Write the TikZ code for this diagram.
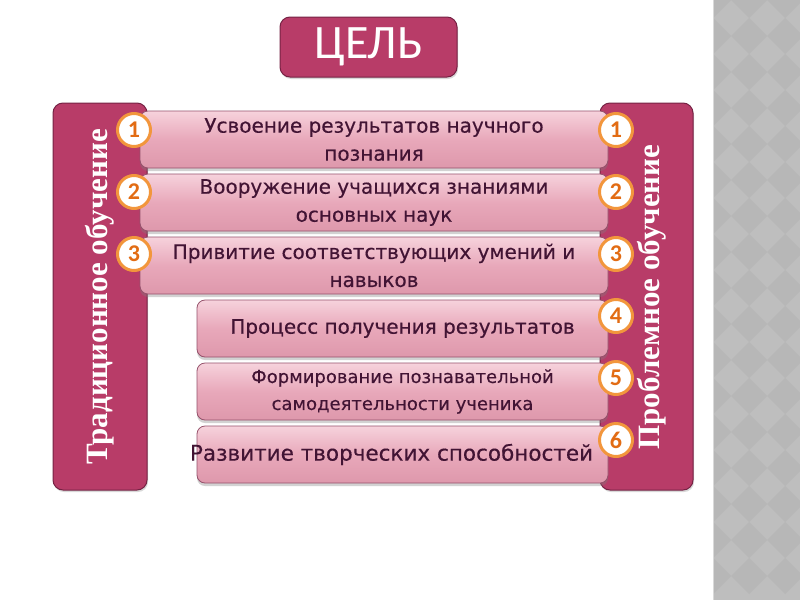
\documentclass[tikz,border=0pt]{standalone}
\usepackage{fontspec}
\setmainfont{DejaVu Sans}[FakeBold=0.4]
\newfontfamily\titlefont{Carlito}
\newfontfamily\barfont{Liberation Serif}
\usetikzlibrary{shadows}
\definecolor{berry}{RGB}{184,60,104}
\definecolor{berryedge}{RGB}{118,34,68}
\definecolor{pinktop}{RGB}{246,210,220}
\definecolor{pinkmid}{RGB}{232,168,186}
\definecolor{pinkbot}{RGB}{222,152,172}
\definecolor{pinkedge}{RGB}{150,82,108}
\definecolor{plum}{RGB}{66,20,52}
\definecolor{ring}{RGB}{242,150,60}
\definecolor{digit}{RGB}{226,108,20}
\definecolor{stripe}{RGB}{190,190,190}
\definecolor{stripedark}{RGB}{183,183,183}

\begin{document}
\begin{tikzpicture}[x=1pt,y=-1pt,
  sidebar/.style={draw=berryedge,line width=1pt,fill=berry,rounded corners=10pt,
    drop shadow={shadow xshift=1pt,shadow yshift=-2pt,opacity=.3}},
  stepbox/.style={draw=pinkedge,line width=.8pt,rounded corners=8pt,
    top color=pinktop,bottom color=pinkbot,middle color=pinkmid,
    minimum height=57,align=center,text=plum,inner sep=2pt,
    font=\fontsize{20}{28}\selectfont,
    drop shadow={shadow xshift=0pt,shadow yshift=-3pt,opacity=.35}},
  numring/.style={circle,draw=ring,line width=3pt,fill=white,minimum size=33,
    inner sep=0pt,text=digit,font=\titlefont\bfseries\fontsize{24}{24}\selectfont},
  sidetext/.style={rotate=90,text=white,font=\barfont\bfseries\fontsize{31}{31}\selectfont}
]
\useasboundingbox (0,0) rectangle (800,600);
\fill[white] (0,0) rectangle (800,600);
% patterned stripe on the right
\begin{scope}
  \clip (713,0) rectangle (800,600);
  \fill[stripe] (713,0) rectangle (800,600);
  \foreach \i in {0,...,3}
    \foreach \j in {0,...,16}
      \fill[stripedark] (713+36*\i,36*\j) ++(-18,0) -- ++(18,-18) -- ++(18,18) -- ++(-18,18) -- cycle;
\end{scope}
\draw[gray!30,line width=1pt] (713,0) -- (713,600);

% goal
\node[sidebar,minimum width=177,minimum height=60,text=white,
  font=\titlefont\fontsize{48}{48}\selectfont] (goal) at (368.5,47) {ЦЕЛЬ};

% side bars
\node[sidebar,minimum width=94,minimum height=387] (leftbar) at (100,296.5) {};
\node[sidebar,minimum width=93,minimum height=387] (rightbar) at (646.5,296.5) {};
\node[sidetext] (lefttext) at (100,297) {Традиционное обучение};
\node[sidetext] (righttext) at (652,297) {Проблемное обучение};

% shared aims
\foreach \i/\txt in {1/{Усвоение результатов научного\\познания},
                     2/{Вооружение учащихся знаниями\\основных наук},
                     3/{Привитие соответствующих умений и\\навыков}}{
  \node[stepbox,minimum width=468] (box\i) at (374,76.5+63*\i) {\txt};
  \node[numring] (lnum\i) at (134,68+62*\i) {\i};
}
% problem-based only
\node[stepbox,minimum width=411] (box4) at (402.5,328.5) {Процесс получения результатов};
\node[stepbox,minimum width=411,font=\fontsize{18}{27}\selectfont] (box5) at (402.5,391.5)
  {Формирование познавательной\\самодеятельности ученика};
\node[stepbox,minimum width=411,font=\fontsize{21.5}{28}\selectfont] (box6) at (402.5,454.5)
  {\hspace*{-22pt}Развитие творческих способностей};
\foreach \i in {1,...,6}
  \node[numring] (rnum\i) at (616,68+62*\i) {\i};
\end{tikzpicture}
\end{document}
